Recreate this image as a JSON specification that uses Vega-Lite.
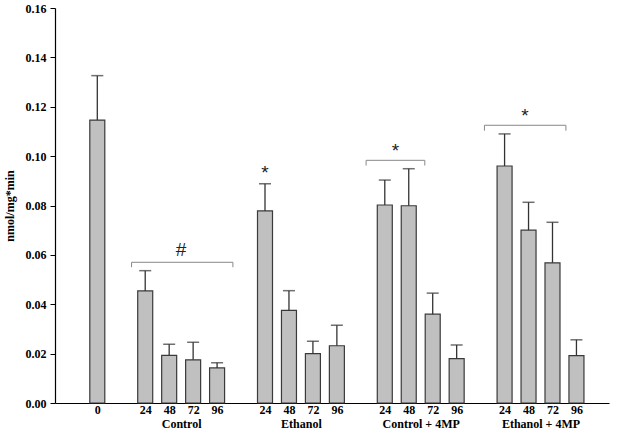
{
  "$schema": "https://vega.github.io/schema/vega-lite/v6.json",
  "width": 554,
  "height": 395,
  "autosize": {"type": "none"},
  "padding": {"left": 55, "top": 8, "right": 15, "bottom": 37},
  "background": "white",
  "config": {
    "view": {"stroke": null},
    "font": "Liberation Serif",
    "axis": {"grid": false, "domainColor": "#000000", "tickColor": "#000000", "labelFont": "Liberation Serif", "titleFont": "Liberation Serif", "labelFontWeight": "bold", "titleFontWeight": "bold", "labelColor": "#000000", "titleColor": "#000000", "labelFontSize": 12, "titleFontSize": 12}
  },
  "datasets": {
    "bars": [
      {"pos": 0, "group": "Baseline", "hour": "0", "mean": 0.1146, "upper": 0.1326},
      {"pos": 2, "group": "Control", "hour": "24", "mean": 0.0454, "upper": 0.0536},
      {"pos": 3, "group": "Control", "hour": "48", "mean": 0.0193, "upper": 0.0238},
      {"pos": 4, "group": "Control", "hour": "72", "mean": 0.0175, "upper": 0.0246},
      {"pos": 5, "group": "Control", "hour": "96", "mean": 0.0142, "upper": 0.0163},
      {"pos": 7, "group": "Ethanol", "hour": "24", "mean": 0.0778, "upper": 0.0888},
      {"pos": 8, "group": "Ethanol", "hour": "48", "mean": 0.0375, "upper": 0.0455},
      {"pos": 9, "group": "Ethanol", "hour": "72", "mean": 0.0200, "upper": 0.0250},
      {"pos": 10, "group": "Ethanol", "hour": "96", "mean": 0.0232, "upper": 0.0315},
      {"pos": 12, "group": "Control + 4MP", "hour": "24", "mean": 0.0802, "upper": 0.0903},
      {"pos": 13, "group": "Control + 4MP", "hour": "48", "mean": 0.0799, "upper": 0.0949},
      {"pos": 14, "group": "Control + 4MP", "hour": "72", "mean": 0.0360, "upper": 0.0445},
      {"pos": 15, "group": "Control + 4MP", "hour": "96", "mean": 0.0180, "upper": 0.0235},
      {"pos": 17, "group": "Ethanol + 4MP", "hour": "24", "mean": 0.0960, "upper": 0.1090},
      {"pos": 18, "group": "Ethanol + 4MP", "hour": "48", "mean": 0.0700, "upper": 0.0813},
      {"pos": 19, "group": "Ethanol + 4MP", "hour": "72", "mean": 0.0568, "upper": 0.0732},
      {"pos": 20, "group": "Ethanol + 4MP", "hour": "96", "mean": 0.0192, "upper": 0.0256}
    ],
    "brackets": [
      {"x1": 1.43, "x2": 5.66, "y": 0.0570, "ylow": 0.0550, "xl": 3.5, "yl": 0.0620, "label": "#"},
      {"x1": 11.22, "x2": 13.67, "y": 0.0983, "ylow": 0.0962, "xl": 12.45, "yl": 0.1020, "label": "*"},
      {"x1": 16.16, "x2": 19.56, "y": 0.1125, "ylow": 0.1103, "xl": 17.85, "yl": 0.1163, "label": "*"}
    ],
    "bracketEnds": [
      {"x": 1.43, "y": 0.0570, "ylow": 0.0550},
      {"x": 5.66, "y": 0.0570, "ylow": 0.0550},
      {"x": 11.22, "y": 0.0983, "ylow": 0.0962},
      {"x": 13.67, "y": 0.0983, "ylow": 0.0962},
      {"x": 16.16, "y": 0.1125, "ylow": 0.1103},
      {"x": 19.56, "y": 0.1125, "ylow": 0.1103}
    ],
    "stars": [
      {"x": 7, "y": 0.0930, "label": "*"}
    ]
  },
  "resolve": {"axis": {"x": "independent"}},
  "layer": [
    {
      "data": {"name": "bars"},
      "mark": {"type": "bar", "size": 15, "fill": "#c0c0c0", "stroke": "#3a3a3a", "strokeWidth": 1.2},
      "encoding": {
        "x": {"field": "pos", "type": "quantitative", "scale": {"domain": [-1.557, 21.15], "nice": false, "zero": false},
          "axis": {"orient": "bottom", "title": null, "values": [0, 2, 3, 4, 5, 7, 8, 9, 10, 12, 13, 14, 15, 17, 18, 19, 20], "ticks": false, "labelPadding": 1, "labelExpr": "datum.value == 0 ? '0' : ['96','','24','48','72'][datum.value % 5]", "domainWidth": 1.2, "labelFlush": false}},
        "y": {"field": "mean", "type": "quantitative", "scale": {"domain": [0, 0.16], "nice": false},
          "axis": {"title": "nmol/mg*min", "values": [0, 0.02, 0.04, 0.06, 0.08, 0.1, 0.12, 0.14, 0.16], "format": ".2f", "tickSize": 5, "labelPadding": 4, "titlePadding": 9, "domainWidth": 1.2}}
      }
    },
    {
      "data": {"name": "bars"},
      "mark": {"type": "rule", "color": "#333333", "strokeWidth": 1.3},
      "encoding": {
        "x": {"field": "pos", "type": "quantitative", "axis": {"orient": "bottom", "title": null, "values": [3.5, 8.5, 13.5, 18.5], "ticks": false, "domain": false, "labelPadding": 15, "labelExpr": "datum.value == 3.5 ? 'Control' : datum.value == 8.5 ? 'Ethanol' : datum.value == 13.5 ? 'Control + 4MP' : 'Ethanol + 4MP'", "labelFlush": false}},
        "y": {"field": "mean", "type": "quantitative"},
        "y2": {"field": "upper"}
      }
    },
    {
      "data": {"name": "bars"},
      "mark": {"type": "tick", "orient": "horizontal", "size": 12, "thickness": 1.5, "color": "#333333"},
      "encoding": {
        "x": {"field": "pos", "type": "quantitative", "axis": null},
        "y": {"field": "upper", "type": "quantitative"}
      }
    },
    {
      "data": {"name": "brackets"},
      "mark": {"type": "rule", "color": "#888888", "strokeWidth": 1},
      "encoding": {
        "x": {"field": "x1", "type": "quantitative", "axis": null},
        "x2": {"field": "x2"},
        "y": {"field": "y", "type": "quantitative"}
      }
    },
    {
      "data": {"name": "bracketEnds"},
      "mark": {"type": "rule", "color": "#888888", "strokeWidth": 1},
      "encoding": {
        "x": {"field": "x", "type": "quantitative", "axis": null},
        "y": {"field": "y", "type": "quantitative"},
        "y2": {"field": "ylow"}
      }
    },
    {
      "data": {"name": "brackets"},
      "mark": {"type": "text", "font": "Liberation Sans", "fontSize": 19, "color": "#222222", "baseline": "middle"},
      "encoding": {
        "x": {"field": "xl", "type": "quantitative", "axis": null},
        "y": {"field": "yl", "type": "quantitative"},
        "text": {"field": "label"}
      }
    },
    {
      "data": {"name": "stars"},
      "mark": {"type": "text", "font": "Liberation Sans", "fontSize": 19, "color": "#222222", "baseline": "middle"},
      "encoding": {
        "x": {"field": "x", "type": "quantitative", "axis": null},
        "y": {"field": "y", "type": "quantitative"},
        "text": {"field": "label"}
      }
    }
  ]
}
